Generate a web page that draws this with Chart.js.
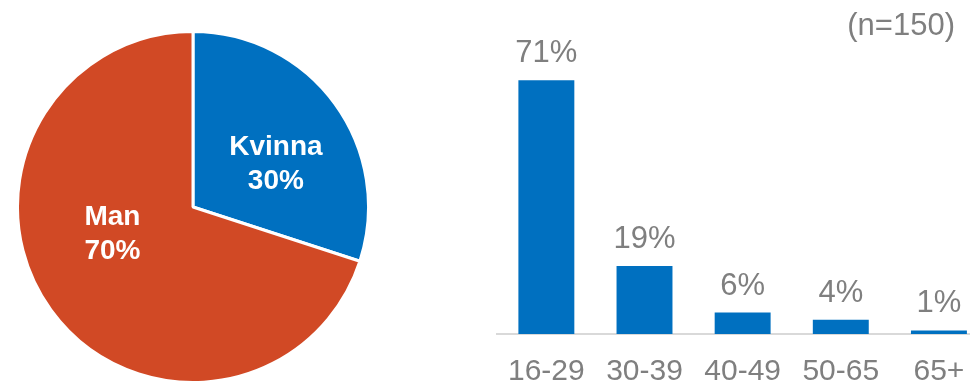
<!DOCTYPE html>
<html>
<head>
<meta charset="utf-8">
<script src="https://cdn.jsdelivr.net/npm/chart.js@4"></script>
<style>
body { margin: 0; width: 970px; height: 385px; overflow: hidden; background: #fff; position: relative; font-family: "Liberation Sans", Arial, sans-serif; }
#kon { position: absolute; left: 16px; top: 30px; }
#alder { position: absolute; left: 488px; top: 0; }
#antal { position: absolute; right: 15px; top: 8px; font-size: 31px; color: #7f7f7f; line-height: 34px; }
</style>
</head>
<body>
<canvas id="kon" width="354" height="354"></canvas>
<canvas id="alder" width="500" height="410"></canvas>
<div id="antal">(n=150)</div>
<script>
const genderLabels = ['Kvinna', 'Man'];
const genderShare = [30, 70];

const ageGroups = ['16-29', '30-39', '40-49', '50-65', '65+'];
const ageShare = [71, 19, 6, 4, 1];

const FONT = '"Liberation Sans", Arial, sans-serif';
const BLUE = '#0070c0';
const RED = '#d14925';
const GREY = '#7f7f7f';

// name + percent written inside each slice
const sliceLabels = {
    id: 'sliceLabels',
    afterDatasetsDraw(chart, args, opts) {
        const ctx = chart.ctx;
        const meta = chart.getDatasetMeta(0);
        ctx.save();
        ctx.font = 'bold 28px ' + FONT;
        ctx.fillStyle = '#fff';
        ctx.textAlign = 'center';
        ctx.textBaseline = 'middle';
        meta.data.forEach((arc, i) => {
            const p = arc.getProps(['x', 'y', 'startAngle', 'endAngle', 'outerRadius'], true);
            const [shift, frac] = opts.place[i];
            const a = (p.startAngle + p.endAngle) / 2 + shift * Math.PI / 180;
            const r = p.outerRadius * frac;
            const cx = p.x + Math.cos(a) * r;
            const cy = p.y + Math.sin(a) * r + 3;
            ctx.fillText(chart.data.labels[i], cx, cy - 17);
            ctx.fillText(chart.data.datasets[0].data[i] + '%', cx, cy + 17);
        });
        ctx.restore();
    }
};

// percent above each bar
const barValues = {
    id: 'barValues',
    afterDatasetsDraw(chart, args, opts) {
        const ctx = chart.ctx;
        const meta = chart.getDatasetMeta(0);
        ctx.save();
        ctx.font = '31px ' + FONT;
        ctx.fillStyle = GREY;
        ctx.textAlign = 'center';
        ctx.textBaseline = 'alphabetic';
        meta.data.forEach((bar, i) => {
            ctx.fillText(chart.data.datasets[0].data[i] + '%', bar.x, bar.y - opts.gap);
        });
        ctx.restore();
    }
};

new Chart(document.getElementById('kon'), {
    type: 'pie',
    data: {
        labels: genderLabels,
        datasets: [{
            data: genderShare,
            backgroundColor: [BLUE, RED],
            borderColor: '#fff',
            borderWidth: 3
        }]
    },
    options: {
        responsive: false,
        animation: false,
        layout: { padding: 0 },
        plugins: {
            legend: { display: false },
            tooltip: { enabled: false },
            sliceLabels: { place: [[7, 0.54], [19, 0.48]] }
        }
    },
    plugins: [sliceLabels]
});

new Chart(document.getElementById('alder'), {
    type: 'bar',
    data: {
        labels: ageGroups,
        datasets: [{
            data: ageShare,
            backgroundColor: BLUE,
            barPercentage: 0.57,
            categoryPercentage: 1
        }]
    },
    options: {
        responsive: false,
        animation: false,
        layout: { padding: { top: 48, left: 0, right: 0, bottom: 0 } },
        scales: {
            x: {
                grid: { display: false, drawTicks: false },
                border: { display: true, color: '#d9d9d9', width: 2 },
                ticks: { color: GREY, font: { family: FONT, size: 30 }, padding: 20 }
            },
            y: {
                display: false,
                min: 0,
                max: 80
            }
        },
        plugins: {
            legend: { display: false },
            tooltip: { enabled: false },
            barValues: { gap: 18 }
        }
    },
    plugins: [barValues]
});
</script>
</body>
</html>
